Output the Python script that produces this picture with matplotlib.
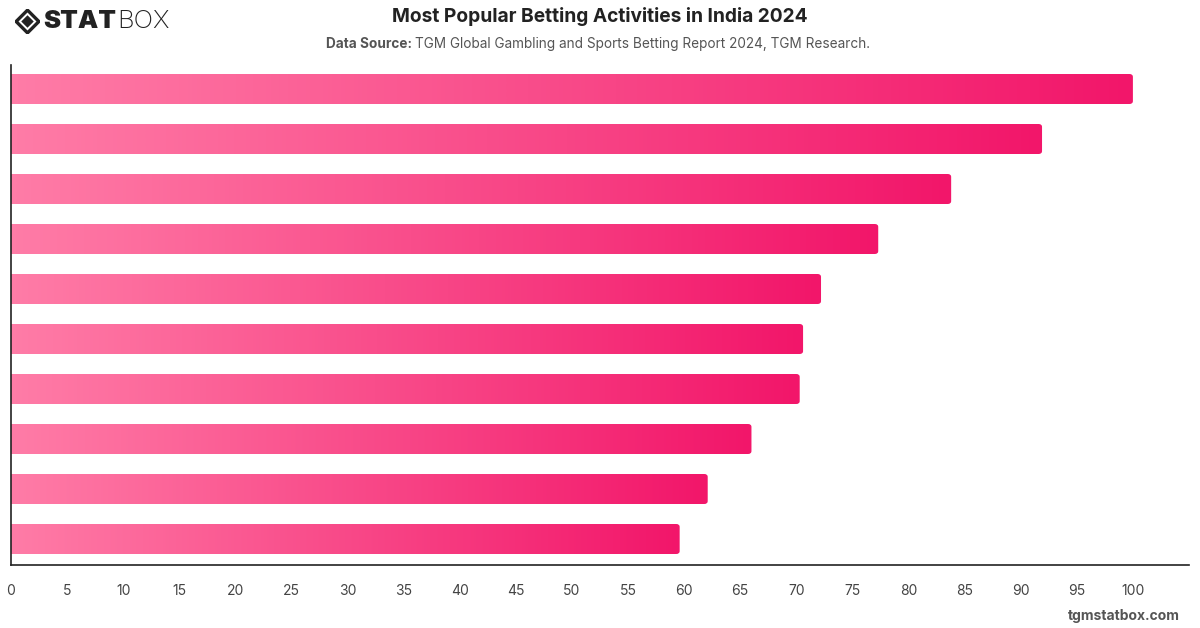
import matplotlib.pyplot as plt
import numpy as np
from matplotlib.patches import FancyBboxPatch, Polygon
from matplotlib.colors import LinearSegmentedColormap

plt.rcParams['font.family'] = ['Inter', 'DejaVu Sans']

# data (top bar first)
ranks = list(range(1, 11))
values = [100.0, 91.9, 83.8, 77.3, 72.2, 70.6, 70.3, 66.0, 62.1, 59.6]
ticks = list(range(0, 101, 5))

title = 'Most Popular Betting Activities in India 2024'
source = 'TGM Global Gambling and Sports Betting Report 2024, TGM Research.'

W, H = 1200, 628
fig = plt.figure(figsize=(W / 100, H / 100), dpi=100)
ax = fig.add_axes([11 / W, 1 - 565 / H, (1189 - 11) / W, (565 - 65) / H])

cmap = LinearSegmentedColormap.from_list('pink', ['#ff7ca7', '#f2166a'])
grad = np.linspace(0, 1, 256).reshape(1, -1)

n = len(values)
ax.set_xlim(0, 105)
ax.set_ylim(n - 0.48, -0.48)

for i, v in enumerate(values):
    y0, y1 = i - 0.3, i + 0.3
    im = ax.imshow(grad, extent=[0, v, y1, y0], aspect='auto', cmap=cmap,
                   interpolation='bilinear', zorder=2)
    clip = FancyBboxPatch((-2, y0), v + 2, 0.6,
                          boxstyle='round,pad=0,rounding_size=0.3',
                          mutation_aspect=0.2, transform=ax.transData,
                          facecolor='none', edgecolor='none')
    ax.add_patch(clip)
    im.set_clip_path(clip)

ax.set_xticks(ticks)
ax.set_xticklabels([str(t) for t in ticks], color='#444444', fontsize=10)
ax.set_yticks([])
ax.tick_params(axis='x', length=0, pad=14)
for s in ['top', 'right']:
    ax.spines[s].set_visible(False)
for s in ['left', 'bottom']:
    ax.spines[s].set_color('#222222')
    ax.spines[s].set_linewidth(1.2)

# header
fig.text(600 / W, 1 - 17 / H, title, ha='center', va='center',
         fontsize=13.8, fontweight='bold', color='#222222')
fig.text(326 / W, 1 - 44 / H, 'Data Source:', ha='left', va='center',
         fontsize=9.8, fontweight='bold', color='#555555')
fig.text(415 / W, 1 - 44 / H, source, ha='left', va='center',
         fontsize=9.8, color='#555555')
fig.text(1180 / W, 1 - 616 / H, 'tgmstatbox.com', ha='right', va='center',
         fontsize=10, fontweight='bold', color='#555555')

# logo
lax = fig.add_axes([15 / W, 1 - 34 / H, 25 / W, 25 / H])
lax.set_xlim(-1.1, 1.1)
lax.set_ylim(-1.1, 1.1)
lax.axis('off')
lax.add_patch(Polygon([[0, 1], [1, 0], [0, -1], [-1, 0]], closed=True,
                      facecolor='none', edgecolor='#222222', linewidth=2.4))
lax.add_patch(Polygon([[0, 0.55], [0.55, 0], [0, -0.55], [-0.55, 0]], closed=True,
                      facecolor='#222222', edgecolor='none'))
fig.text(43 / W, 1 - 21 / H, 'STAT', ha='left', va='center', fontsize=18.5,
         fontweight='black', color='#222222')
fig.text(117 / W, 1 - 21 / H, 'BOX', ha='left', va='center', fontsize=18.5,
         fontweight='light', color='#222222')

fig.savefig('out.png', dpi=100)
